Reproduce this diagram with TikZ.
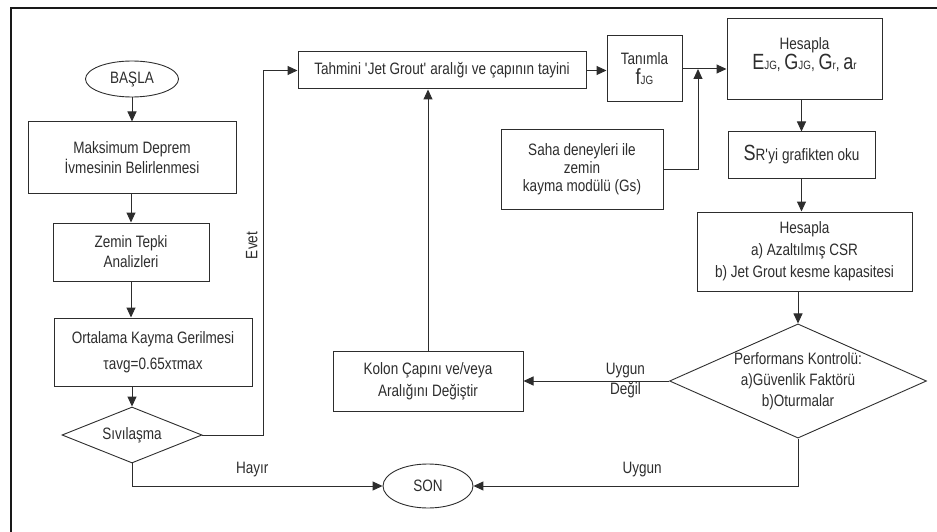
\documentclass[tikz,border=0pt]{standalone}
\usepackage{fontspec}
\setmainfont[FakeStretch=0.82]{Liberation Sans}
\usepackage{tikz}
\usetikzlibrary{arrows.meta,positioning,calc,shapes.geometric}
\definecolor{Ink}{RGB}{45,45,45}
\definecolor{FrameInk}{RGB}{25,25,25}
\newcommand{\bigL}[1]{{\fontsize{22}{22}\selectfont #1}}
\newcommand{\smL}[1]{{\fontsize{12}{12}\selectfont #1}}

\begin{document}
\begin{tikzpicture}[
      x=1pt,y=-1pt,
      pNode/.style={draw=Ink,fill=white,line width=1pt,align=center,text=Ink,
                    font=\fontsize{16.5}{20}\selectfont,inner sep=2pt},
      tNode/.style={draw=Ink,ellipse,line width=0.9pt,align=center,text=Ink,
                    font=\fontsize{16.5}{20}\selectfont,inner sep=0pt},
      dNode/.style={draw=Ink,diamond,line width=0.9pt,align=center,text=Ink,
                    font=\fontsize{16.5}{21}\selectfont,inner sep=0pt},
      lbl/.style={text=Ink,font=\fontsize{16.5}{20}\selectfont,align=center},
      ar/.style={-{Triangle[length=10pt,width=9pt]},line width=1pt,color=Ink}
    ]
    \useasboundingbox (0,0) rectangle (937,532);

    % Frame (top and left edge only)
    \draw[line width=1.6pt,FrameInk] (11,532) -- (11,8) -- (937,8);

    % Left column
    \node(basla)[tNode,minimum width=93,minimum height=36] at (132,79) {BAŞLA};
    \node(maks)[pNode,minimum width=208,minimum height=71] at (132,157.5) {Maksimum Deprem\\İvmesinin Belirlenmesi};
    \node(zemin)[pNode,minimum width=156,minimum height=58] at (131,252) {Zemin Tepki\\Analizleri};
    \node(ort)[pNode,minimum width=198,minimum height=68] at (153,352) {Ortalama Kayma Gerilmesi\\[6pt]τavg=0.65xτmax};
    \node(sivi)[dNode,minimum width=140,minimum height=56,aspect=2.5] at (132,435) {Sıvılaşma};

    % Top row
    \node(tahmini)[pNode,minimum width=288,minimum height=37] at (442,70.5) {Tahmini \textquotesingle Jet Grout\textquotesingle{} aralığı ve çapının tayini};
    \node(tanimla)[pNode,minimum width=75,minimum height=66] at (644.5,69) {Tanımla\\\bigL{f}\smL{JG}};
    \node(hesE)[pNode,minimum width=155,minimum height=81,text depth=12pt] at (804.5,59.5) {Hesapla\\\bigL{E}\smL{JG}, \bigL{G}\smL{JG}, \bigL{G}\smL{r}, \bigL{a}\smL{r}};
    \node(saha)[pNode,minimum width=162,minimum height=79,font=\fontsize{16.5}{18}\selectfont] at (582,169.5) {Saha deneyleri ile\\zemin\\kayma modülü (Gs)};

    % Right column
    \node(sr)[pNode,minimum width=147,minimum height=46] at (801.5,155) {\bigL{S}R\textquotesingle yi grafikten oku};
    \node(hes2)[pNode,minimum width=215,minimum height=79,font=\fontsize{16.5}{22}\selectfont] at (804.5,251.5) {Hesapla\\a) Azaltılmış CSR\\b) Jet Grout kesme kapasitesi};
    \node(perf)[dNode,minimum width=252,minimum height=112,aspect=2.25] at (798,381) {Performans Kontrolü:\\a)Güvenlik Faktörü\\b)Oturmalar};

    % Loop back and end
    \node(kolon)[pNode,minimum width=190,minimum height=60,font=\fontsize{16.5}{22}\selectfont] at (428,381) {Kolon Çapını ve/veya\\Aralığını Değiştir};
    \node(son)[tNode,minimum width=90,minimum height=44] at (428,486) {SON};

    \coordinate (evetc) at (263,70.5);
    \coordinate (jn) at (698,69);

    % Left column arrows
    \draw[ar] (basla) -- (maks);
    \draw[ar] (maks.south -| zemin.north) -- (zemin.north);
    \draw[ar] (zemin.south) -- (zemin.south |- ort.north);
    \draw[ar] (ort.south -| sivi.north) -- (sivi.north);

    % Yes branch up to the top row
    \draw[ar] (sivi.east) -| node[pos=0.76,rotate=90,anchor=south,lbl,inner sep=5pt]{Evet} (evetc) -- (tahmini.west);
    \draw[ar] (tahmini.east) -- (tahmini.east -| tanimla.west);
    \draw[ar] (tanimla.east) -- (tanimla.east -| hesE.west);
    \draw[ar] (saha.east) -| (jn);

    % Right column arrows
    \draw[ar] (sr.north |- hesE.south) -- (sr.north);
    \draw[ar] (sr.south) -- (sr.south |- hes2.north);
    \draw[ar] (hes2.south -| perf.north) -- (perf.north);

    % Decision exits
    \draw[ar] (perf.west) -- node[pos=0.3,lbl]{Uygun\\Değil} (kolon.east);
    \draw[ar] (kolon.north) -- (kolon.north |- tahmini.south);
    \draw[ar] (perf.south) |- node[pos=0.74,above=5pt,lbl]{Uygun} (son.east);
    \draw[ar] (sivi.south) |- node[pos=0.74,above=5pt,lbl]{Hayır} (son.west);
  \end{tikzpicture}
\end{document}
